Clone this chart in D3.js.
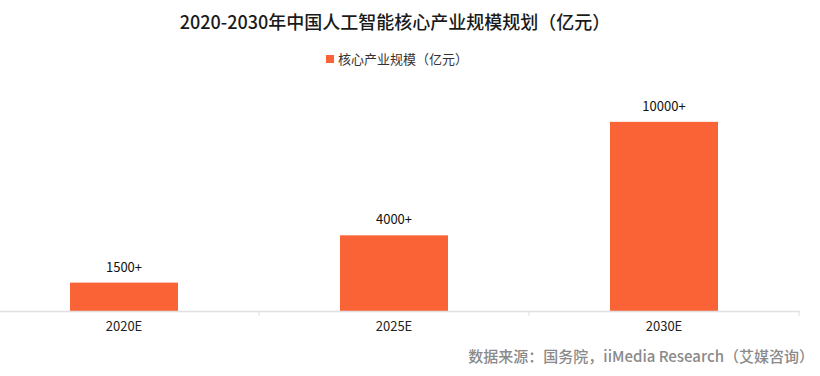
<!DOCTYPE html>
<html><head><meta charset="utf-8">
<script src="https://cdn.jsdelivr.net/npm/d3@7"></script>
<style>body{margin:0;background:#fff}svg{display:block;font-family:"Noto Sans CJK SC","Noto Sans",sans-serif}</style>
</head><body><svg id="c" width="820" height="376"></svg>
<script>
const categories = ["2020E","2025E","2030E"];
const values = [1500,4000,10000];
const valueLabels = ["1500+","4000+","10000+"];
const seriesName = "核心产业规模（亿元）";
const title = "2020-2030年中国人工智能核心产业规模规划（亿元）";
const source = "数据来源：国务院，iiMedia Research（艾媒咨询）";
const color = "#F96336";

const svg = d3.select("#c");
const xb = d3.scaleBand().domain(categories).range([-11, 799]);
const y = d3.scaleLinear().domain([0, 12000]).range([311, 84]);

svg.append("text").attr("x",395).attr("y",29).attr("text-anchor","middle")
  .attr("font-size",18).attr("font-weight",500).attr("fill","#1a1a1a").text(title);

const lg = svg.append("g");
lg.append("rect").attr("x",326).attr("y",55).attr("width",8).attr("height",8).attr("fill",color);
lg.append("text").attr("x",338).attr("y",64).attr("font-size",13).attr("fill","#333").text(seriesName);

svg.selectAll("rect.bar").data(values).join("rect").attr("class","bar")
  .attr("x",(d,i)=>xb(categories[i]) + xb.bandwidth()*0.3)
  .attr("width",xb.bandwidth()*0.4)
  .attr("y",d=>y(d)).attr("height",d=>y(0)-y(d)).attr("fill",color);

svg.selectAll("text.vl").data(values).join("text").attr("class","vl")
  .attr("x",(d,i)=>xb(categories[i]) + xb.bandwidth()/2)
  .attr("y",d=>y(d)-11).attr("text-anchor","middle").attr("font-size",13).attr("fill","#111")
  .text((d,i)=>valueLabels[i]);

const ax = svg.append("g").attr("transform","translate(0,311)")
  .call(d3.axisBottom(xb).tickSize(0).tickPadding(11));
ax.select(".domain").attr("stroke","#e0e0e0").attr("stroke-width",1.5);
ax.selectAll(".tick text").attr("font-size",13).attr("fill","#222").attr("font-family","\"Noto Sans CJK SC\",sans-serif");
svg.selectAll("line.bt").data(categories).join("line").attr("class","bt")
  .attr("x1",d=>xb(d)+xb.bandwidth()).attr("x2",d=>xb(d)+xb.bandwidth())
  .attr("y1",311).attr("y2",316).attr("stroke","#e0e0e0");

svg.append("text").attr("x",814).attr("y",362).attr("text-anchor","end")
  .attr("font-size",15).attr("font-weight",500).attr("fill","#8a8a8a").text(source);
</script></body></html>
